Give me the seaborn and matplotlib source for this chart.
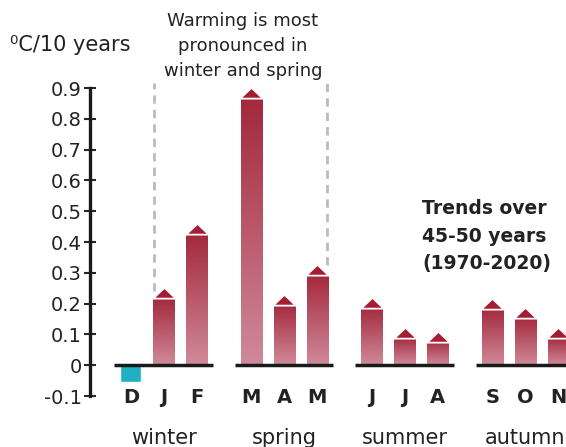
import numpy as np
import pandas as pd
import matplotlib
matplotlib.use("Agg")
import matplotlib.pyplot as plt
import seaborn as sns
from matplotlib.colors import LinearSegmentedColormap

sns.set_style("white")
plt.rcParams['font.family'] = ['DejaVu Sans']

# data
months = ['Dec', 'Jan', 'Feb', 'Mar', 'Apr', 'May', 'Jun', 'Jul', 'Aug', 'Sep', 'Oct', 'Nov']
letters = ['D', 'J', 'F', 'M', 'A', 'M', 'J', 'J', 'A', 'S', 'O', 'N']
seasons = ['winter', 'spring', 'summer', 'autumn']
trend = [-0.055, 0.22, 0.43, 0.87, 0.20, 0.295, 0.19, 0.09, 0.08, 0.185, 0.155, 0.09]
yticks = [-0.1, 0, 0.1, 0.2, 0.3, 0.4, 0.5, 0.6, 0.7, 0.8, 0.9]
ytick_labels = ['-0.1', '0', '0.1', '0.2', '0.3', '0.4', '0.5', '0.6', '0.7', '0.8', '0.9']

group_step = 3.65  # distance between first bars of neighbouring seasons
df = pd.DataFrame({
    'month': months,
    'letter': letters,
    'trend': trend,
    'season': np.repeat(seasons, 3),
    'idx': np.tile(np.arange(3), 4),
})
df['gi'] = np.repeat(np.arange(4), 3)
df['pos'] = df['gi'] * group_step + df['idx']

red_top = '#a3283b'
red_bot = '#d08a9b'
teal = '#1fb0c3'
arrow_col = '#a41d31'

fig = plt.figure(figsize=(5.66, 4.47), dpi=100)
ax = fig.add_axes([90 / 566, 1 - 396 / 447, 1 - 90 / 566, (396 - 88) / 447])

sns.barplot(data=df, x='pos', y='trend', native_scale=True, width=0.64,
            color=red_top, ax=ax, errorbar=None, saturation=1)

ax.set_xlim(-1.24, 13.18)
ax.set_ylim(-0.1, 0.9)

cmap = LinearSegmentedColormap.from_list('warm', [red_bot, red_top])
grad = np.linspace(0, 1, 256).reshape(-1, 1)
for patch, val in zip(ax.patches, df['trend']):
    x0, y0 = patch.get_x(), patch.get_y()
    w, h = patch.get_width(), patch.get_height()
    if val < 0:
        patch.set_facecolor(teal)
        continue
    patch.set_facecolor('none')
    patch.set_edgecolor('none')
    im = ax.imshow(grad, cmap=cmap, aspect='auto', origin='lower',
                   extent=[x0, x0 + w, y0, y0 + h], zorder=2)
    im.set_clip_path(patch)

ax.set_xlim(-1.24, 13.18)
ax.set_ylim(-0.1, 0.9)

# arrow heads on top of warming bars
tri = [(-1, -0.1), (1, -0.1), (0, 0.85), (-1, -0.1)]
pos_df = df[df['trend'] > 0]
sns.scatterplot(data=pos_df, x='pos', y='trend', marker=tri, s=270,
                color=arrow_col, edgecolor='white', linewidth=1.3,
                ax=ax, zorder=4, clip_on=False, legend=False)

# baselines per season and labels
for gi, (season, g) in enumerate(df.groupby('gi')):
    xs = g['pos'].values
    ax.hlines(0, xs[0] - 0.5, xs[-1] + 0.48, color='#1a1a1a', lw=2.5, zorder=5)
    ax.text(xs.mean(), -0.235, seasons[gi], ha='center', va='center',
            fontsize=15, color='#222222', clip_on=False)
for p, l in zip(df['pos'], df['letter']):
    ax.text(p, -0.105, l, ha='center', va='center', fontsize=14,
            fontweight='bold', color='#222222', clip_on=False)

# dashed bracket for winter/spring
jan = df.loc[1]
may = df.loc[5]
ax.vlines(jan['pos'] - 0.3, jan['trend'] + 0.022, 0.915, colors='#bbbbbb',
          linestyles=(0, (3, 2.2)), lw=2, clip_on=False)
ax.vlines(may['pos'] + 0.3, may['trend'] + 0.03, 0.915, colors='#bbbbbb',
          linestyles=(0, (3, 2.2)), lw=2, clip_on=False)

ax.set_yticks(yticks)
ax.set_yticklabels(ytick_labels)
ax.tick_params(axis='y', direction='inout', length=8, width=1.5, labelsize=14,
               labelcolor='#222222', pad=2, left=True)
ax.set_xticks([])
ax.set_xlabel('')
ax.set_ylabel('')
for s in ['top', 'right', 'bottom']:
    ax.spines[s].set_visible(False)
ax.spines['left'].set_linewidth(2.4)
ax.spines['left'].set_color('#1a1a1a')

fig.text(10 / 566, 1 - 45 / 447, '\u2070C/10 years', fontsize=15,
         color='#222222', va='center', ha='left')
fig.text(243 / 566, 1 - 46 / 447, 'Warming is most\npronounced in\nwinter and spring',
         fontsize=13, color='#222222', ha='center', va='center', linespacing=1.5)
fig.text(422 / 566, 1 - 236 / 447, 'Trends over\n45-50 years\n(1970-2020)',
         fontsize=13.5, fontweight='bold', color='#222222', ha='left', va='center',
         linespacing=1.6)

fig.savefig('out.png', dpi=100)
